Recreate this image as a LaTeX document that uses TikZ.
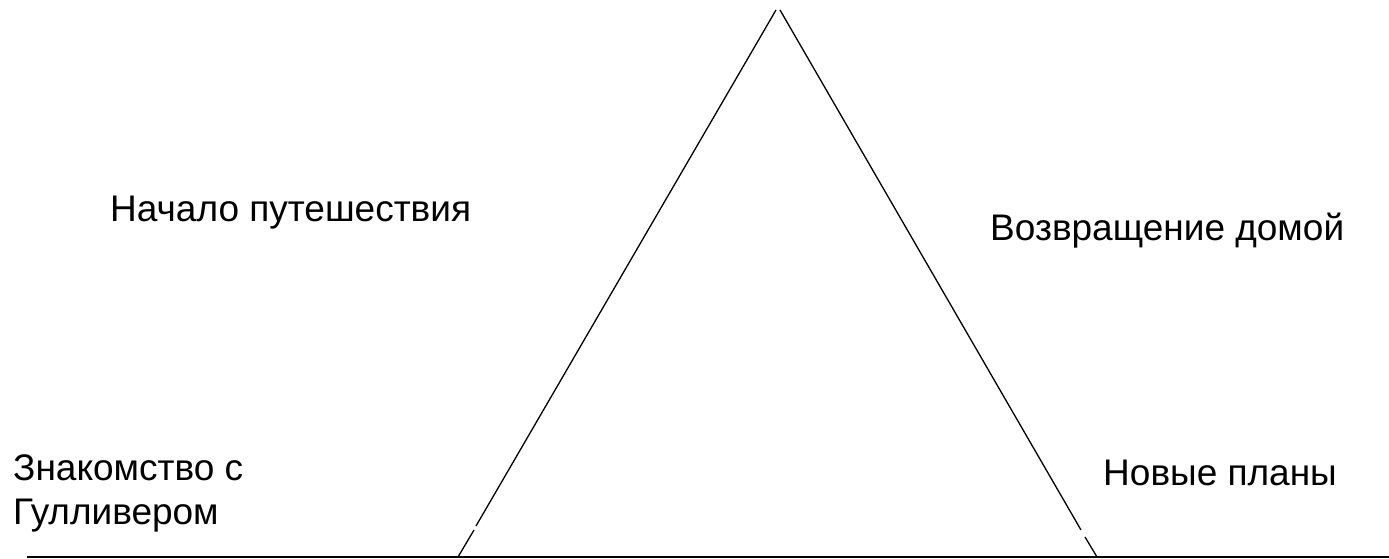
\documentclass[tikz,border=0pt]{standalone}
\usepackage{fontspec}
\setmainfont{Liberation Sans}
\begin{document}
\begin{tikzpicture}[x=1pt,y=-1pt,
  lbl/.style={font=\fontsize{37}{44}\selectfont, anchor=base west, inner sep=0pt, align=left},
  edge/.style={line width=1.3pt, black}]
\useasboundingbox (0,0) rectangle (1389,559);
\coordinate (apexL) at (776,10);
\coordinate (apexR) at (780,10);
\coordinate (gapLtop) at (476,526);
\coordinate (gapLbot) at (474,530);
\coordinate (footL) at (458,557);
\coordinate (gapRtop) at (1081,530);
\coordinate (gapRbot) at (1085,537);
\coordinate (footR) at (1097,557);
\coordinate (baseL) at (27,557);
\coordinate (baseR) at (1389,557);
\draw[edge] (apexL) -- (gapLtop);
\draw[edge] (gapLbot) -- (footL);
\draw[edge] (apexR) -- (gapRtop);
\draw[edge] (gapRbot) -- (footR);
\draw[line width=1.6pt] (baseL) -- (baseR);
\node[lbl] (start) at (110,221) {Начало путешествия};
\node[lbl] (home) at (990,240) {Возвращение домой};
\node[lbl] (meet) at (13,524) {Знакомство с\\Гулливером};
\node[lbl] (plans) at (1103,485) {Новые планы};
\end{tikzpicture}
\end{document}
